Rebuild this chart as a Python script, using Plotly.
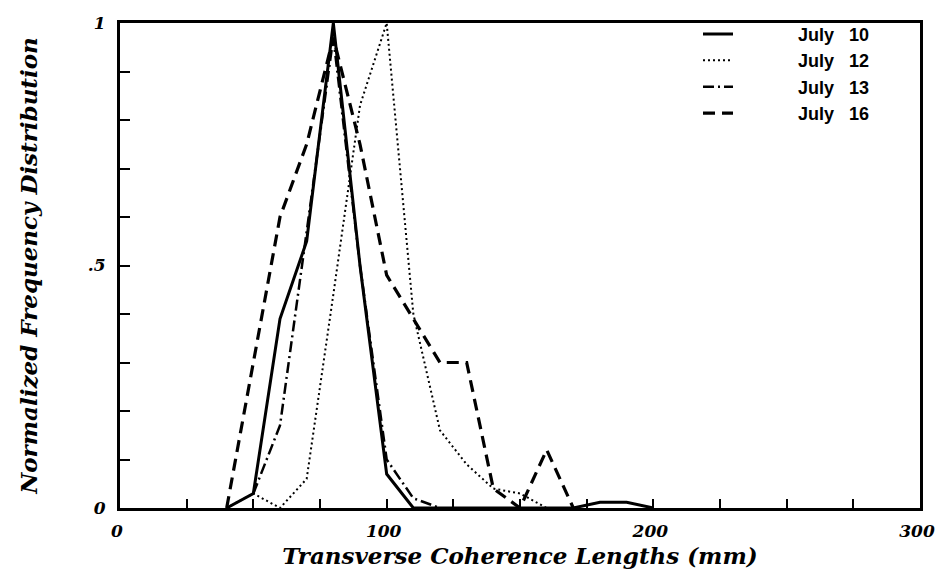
import plotly.graph_objects as go

# Data
x_jul10 = [40, 50, 60, 70, 80, 90, 100, 110, 170, 180, 190, 200]
y_jul10 = [0, 0.03, 0.39, 0.55, 1.0, 0.5, 0.07, 0, 0, 0.012, 0.012, 0]

x_jul12 = [40, 50, 60, 70, 80, 90, 100, 110, 120, 130, 140, 150, 160]
y_jul12 = [0, 0.03, 0, 0.06, 0.44, 0.83, 1.0, 0.4, 0.16, 0.09, 0.04, 0.03, 0]

x_jul13 = [50, 60, 70, 80, 90, 100, 110, 120]
y_jul13 = [0.03, 0.17, 0.57, 0.97, 0.5, 0.1, 0.02, 0]

x_jul16 = [40, 50, 60, 70, 80, 90, 100, 110, 120, 130, 140, 150, 160, 170]
y_jul16 = [0, 0.3, 0.6, 0.75, 0.97, 0.75, 0.48, 0.39, 0.3, 0.3, 0.04, 0, 0.12, 0]

labels = ["July\u00a0\u00a0\u00a010", "July\u00a0\u00a0\u00a012",
          "July\u00a0\u00a0\u00a013", "July\u00a0\u00a0\u00a016"]

x_tickvals = [0, 100, 200, 300]
x_ticktext = ["0", "100", "200", "300"]
y_tickvals = [0, 0.5, 1]
y_ticktext = ["0", ".5", "1"]

series = [
    (x_jul10, y_jul10, labels[0], dict(color="black", width=3, dash="solid")),
    (x_jul12, y_jul12, labels[1], dict(color="black", width=2, dash="2px,3px")),
    (x_jul13, y_jul13, labels[2], dict(color="black", width=2.5, dash="11px,4px,2px,4px")),
    (x_jul16, y_jul16, labels[3], dict(color="black", width=3.2, dash="12px,7px")),
]

fig = go.Figure()
pad = "\u00a0" * 12
for xs, ys, name, line in series:
    fig.add_trace(go.Scatter(x=xs, y=ys, mode="lines", name=pad + name, line=line))

tickfont = dict(family="DejaVu Serif", size=17, color="black", weight="bold", style="italic")
titlefont = dict(family="DejaVu Serif", size=23, color="black", weight="bold", style="italic")

# page body has an 8px margin, so the figure is sized to fit inside the window
fig.update_layout(
    width=937, height=576,
    margin=dict(l=112, r=25, t=5, b=76),
    plot_bgcolor="white", paper_bgcolor="white",
    showlegend=True,
    legend=dict(x=0.7225, y=1.015, xanchor="left", yanchor="top",
                bgcolor="rgba(0,0,0,0)", borderwidth=0,
                font=dict(family="Liberation Sans", size=18, color="black", weight="bold"),
                itemwidth=30),
)

fig.update_xaxes(
    range=[0, 300], tickmode="array", tickvals=x_tickvals, ticktext=x_ticktext,
    ticks="inside", ticklen=9, tickwidth=2, tickcolor="black",
    minor=dict(dtick=25, ticks="inside", ticklen=9, tickwidth=2, tickcolor="black"),
    showgrid=False, zeroline=False,
    showline=True, linewidth=3, linecolor="black", mirror=True,
    tickfont=tickfont, ticklabelstandoff=6, ticklabelshift=-3,
    title=dict(text="Transverse Coherence Lengths (mm)", font=titlefont, standoff=8),
)
fig.update_yaxes(
    range=[0, 1], tickmode="array", tickvals=y_tickvals, ticktext=y_ticktext,
    ticks="inside", ticklen=10, tickwidth=2, tickcolor="black",
    minor=dict(dtick=0.1, ticks="inside", ticklen=10, tickwidth=2, tickcolor="black"),
    showgrid=False, zeroline=False,
    showline=True, linewidth=3, linecolor="black", mirror=True,
    tickfont=tickfont, ticklabelstandoff=8,
    title=dict(text="Normalized Frequency Distribution", font=titlefont, standoff=44),
)

fig.write_html("out.html")
